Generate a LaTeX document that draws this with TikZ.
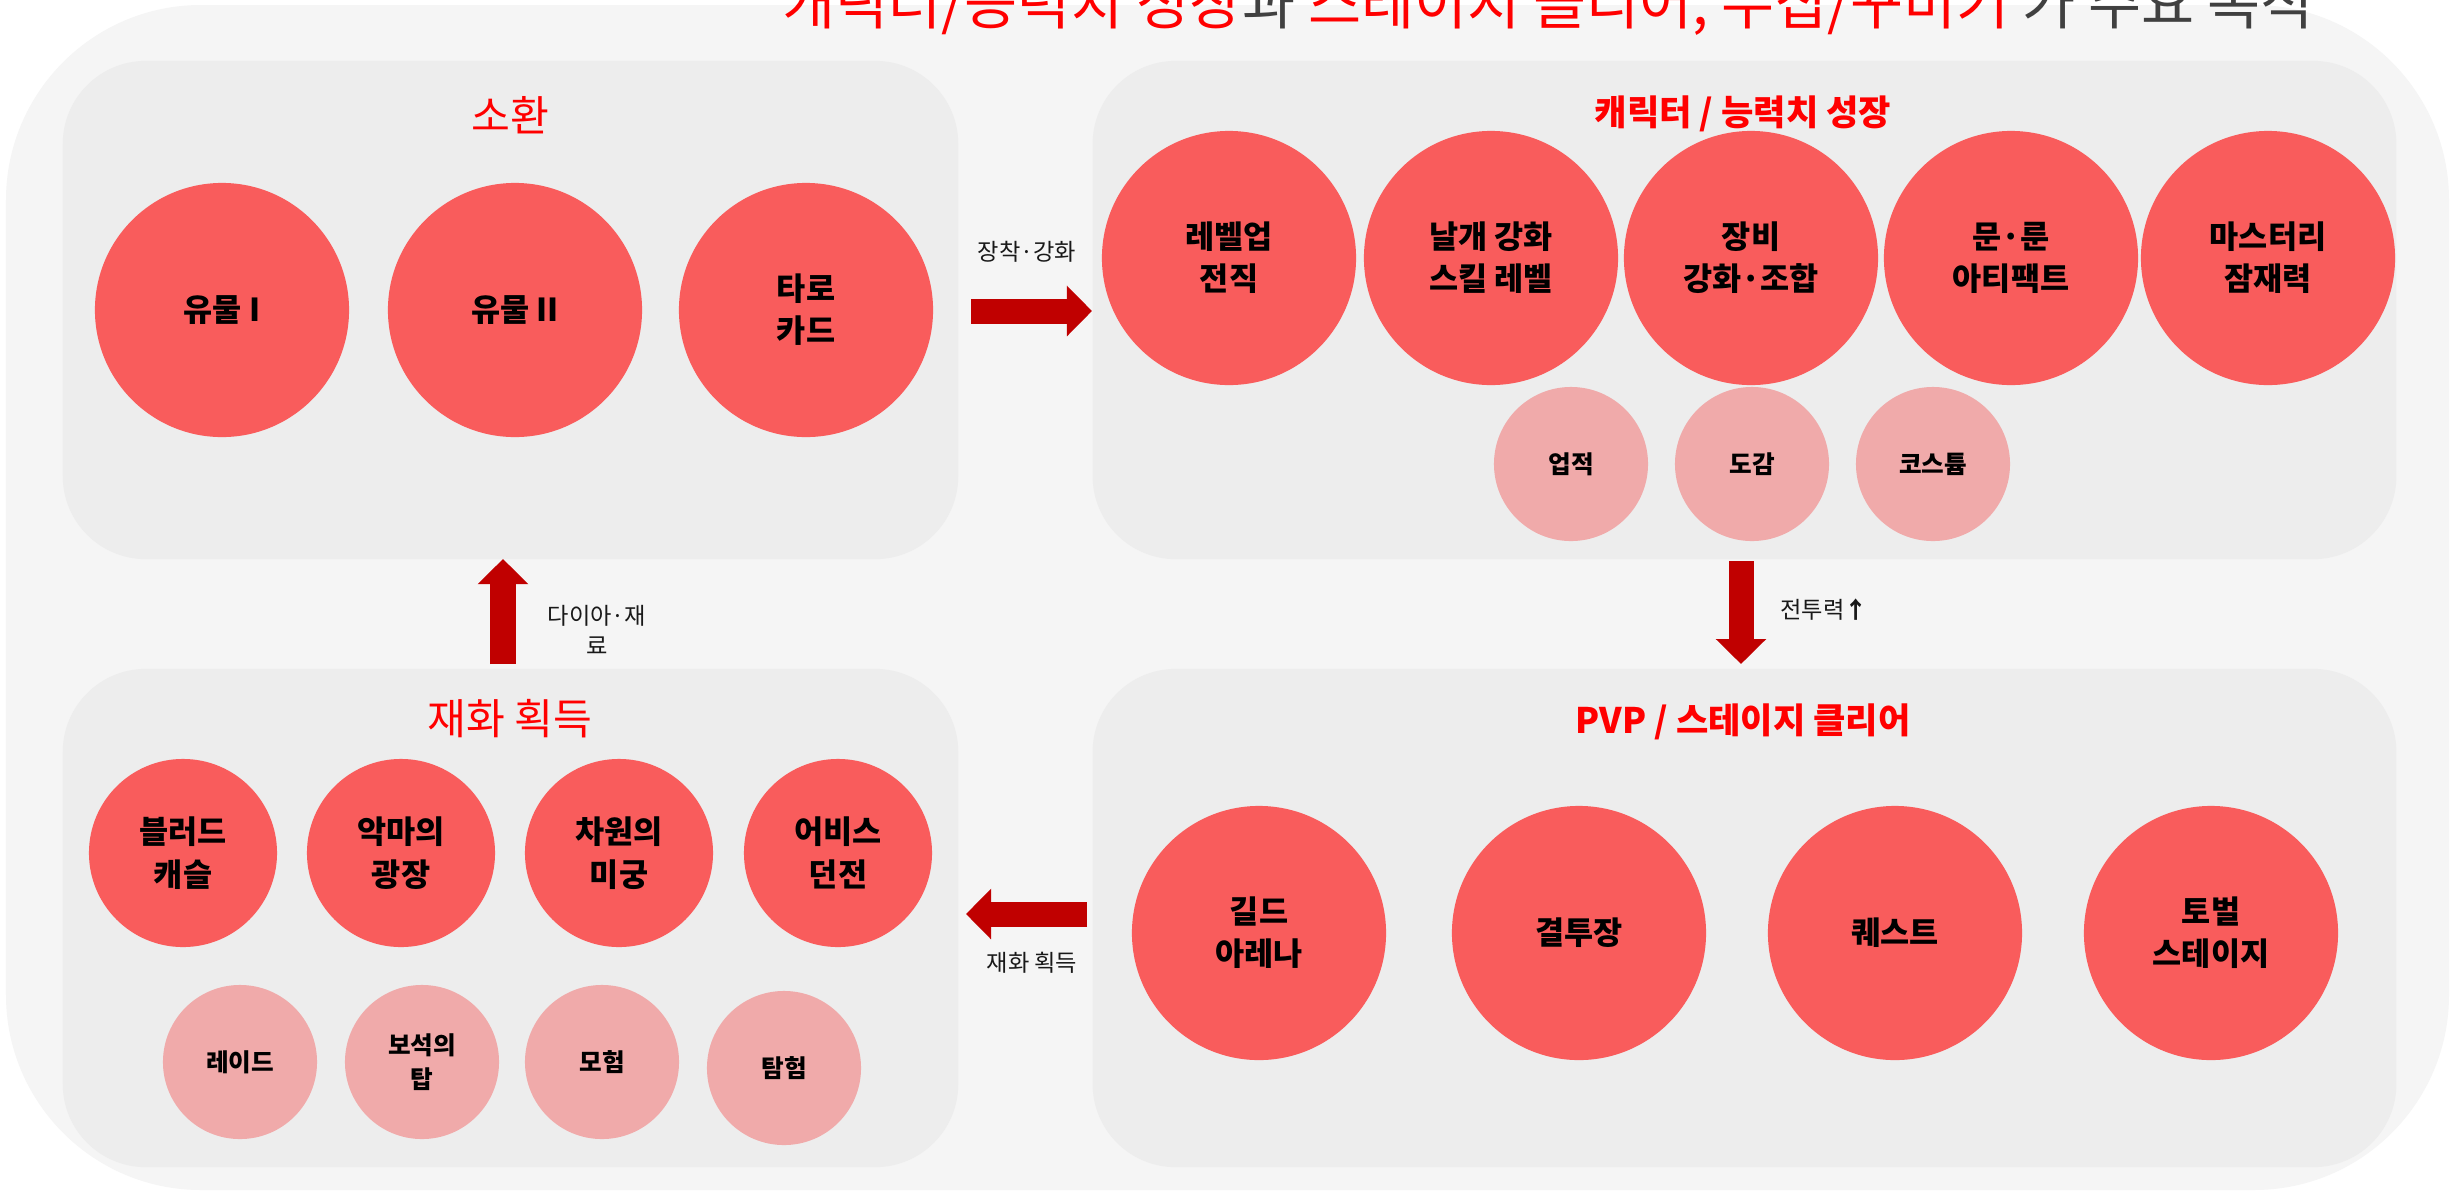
\documentclass[tikz,border=0pt]{standalone}
\usepackage{fontspec}
\newfontfamily\kr{Noto Sans CJK KR}
\usetikzlibrary{arrows.meta}
\definecolor{outerbg}{HTML}{F5F5F5}
\definecolor{panelbg}{HTML}{EDEDED}
\definecolor{bigred}{HTML}{F95C5C}
\definecolor{pinkc}{HTML}{F0AAAA}
\definecolor{arrowred}{HTML}{C00000}
\definecolor{titlered}{HTML}{FF0000}
\definecolor{titlegray}{HTML}{404040}
\newcommand{\fsz}[2]{\fontsize{#1}{#2}\selectfont}
\tikzset{
  panel/.style={rectangle, fill=panelbg, rounded corners=0.83cm, inner sep=0pt},
  bigc/.style={circle, fill=bigred, minimum size=2.54cm, inner sep=0pt, align=center, font=\kr\bfseries\fsz{9pt}{12pt}},
  midc/.style={circle, fill=bigred, minimum size=1.88cm, inner sep=0pt, align=center, font=\kr\bfseries\fsz{9pt}{12.4pt}},
  smallc/.style={circle, fill=pinkc, minimum size=1.54cm, inner sep=0pt, align=center, font=\kr\bfseries\fsz{7pt}{9.5pt}},
  hdrbold/.style={text=titlered, font=\kr\bfseries\fsz{10pt}{12pt}},
  hdrreg/.style={text=titlered, font=\kr\fsz{12pt}{14pt}},
  lbl/.style={text=black!90, font=\kr\fsz{6.6pt}{8.6pt}, align=center},
  blockarrow/.style={draw=arrowred, line width=0.25cm, -{Triangle[length=0.25cm, width=0.49cm]}}
}
\begin{document}
\begin{tikzpicture}[x=0.01cm, y=-0.01cm]
\clip (0,0) rectangle (2456,1193);
\fill[white] (0,0) rectangle (2456,1193);
\fill[outerbg, rounded corners=1.95cm] (6,5) rectangle (2449,1190);

% title (cut off at top)
\node[anchor=base, font=\kr\fsz{16.4pt}{19pt}, inner sep=0pt] (title) at (1548,24)
  {{\color{titlered}캐릭터/능력치 성장}{\color{titlegray}과} {\color{titlered}스테이지 클리어, 수집/꾸미기}\ {\color{titlegray}가 주요 목적}};

% panels
\node[panel, minimum width=8.95cm, minimum height=4.98cm] (TL) at (510.5,310) {};
\node[panel, minimum width=13.03cm, minimum height=4.98cm] (TR) at (1744.5,310) {};
\node[panel, minimum width=8.95cm, minimum height=4.98cm] (BL) at (510.5,918) {};
\node[panel, minimum width=13.03cm, minimum height=4.98cm] (BR) at (1744.5,918) {};

% headers
\node[hdrreg] (hTL) at (510,115) {소환};
\node[hdrbold] (hTR) at (1743,114) {캐릭터 / 능력치 성장};
\node[hdrreg] (hBL) at (510,719) {재화 획득};
\node[hdrbold] (hBR) at (1743,722) {PVP / 스테이지 클리어};

% top-left circles
\node[bigc] (c1) at (222,310) {유물 I};
\node[bigc] (c2) at (515,310) {유물 II};
\node[bigc] (c3) at (806,310) {타로\\카드};

% top-right circles
\node[bigc] (g1) at (1229,258) {레벨업\\전직};
\node[bigc] (g2) at (1491,258) {날개 강화\\스킬 레벨};
\node[bigc] (g3) at (1751,258) {장비\\강화·조합};
\node[bigc] (g4) at (2011,258) {문·룬\\아티팩트};
\node[bigc] (g5) at (2268,258) {마스터리\\잠재력};
\node[smallc] (s1) at (1571,464) {업적};
\node[smallc] (s2) at (1752,464) {도감};
\node[smallc] (s3) at (1933,464) {코스튬};

% bottom-right circles
\node[bigc] (p1) at (1259,933) {길드\\아레나};
\node[bigc] (p2) at (1579,933) {결투장};
\node[bigc] (p3) at (1895,933) {퀘스트};
\node[bigc] (p4) at (2211,933) {토벌\\스테이지};

% bottom-left circles
\node[midc] (d1) at (183,853) {블러드\\캐슬};
\node[midc] (d2) at (401,853) {악마의\\광장};
\node[midc] (d3) at (619,853) {차원의\\미궁};
\node[midc] (d4) at (838,853) {어비스\\던전};
\node[smallc] (e1) at (240,1062) {레이드};
\node[smallc] (e2) at (422,1062) {보석의\\탑};
\node[smallc] (e3) at (602,1062) {모험};
\node[smallc] (e4) at (784,1068) {탐험};

% arrows
\coordinate (aRs) at (971,311);
\coordinate (aRe) at (1092,311);
\draw[blockarrow] (aRs) -- (aRe);
\node[lbl] (lR) at (1027,252) {장착·강화};

\coordinate (aDs) at (1741,561);
\coordinate (aDe) at (1741,664);
\draw[blockarrow] (aDs) -- (aDe);
\node[lbl, anchor=west] (lD) at (1768,610) {전투력{\bfseries↑}};

\coordinate (aLs) at (1087,914);
\coordinate (aLe) at (966,914);
\draw[blockarrow] (aLs) -- (aLe);
\node[lbl] (lL) at (1032,963) {재화 획득};

\coordinate (aUs) at (503,664);
\coordinate (aUe) at (503,559);
\draw[blockarrow] (aUs) -- (aUe);
\node[lbl] (lU) at (597,630) {다이아·재\\료};
\end{tikzpicture}
\end{document}
